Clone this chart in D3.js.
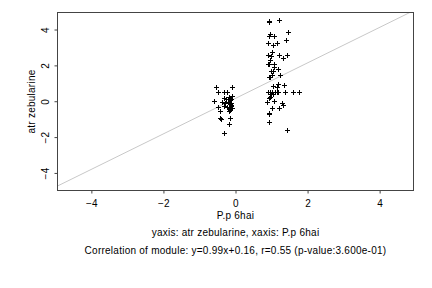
<!DOCTYPE html>
<html>
<head>
<meta charset="utf-8">
<script src="https://cdn.jsdelivr.net/npm/d3@7"></script>
<style>
  body { margin: 0; background: #fff; }
  svg text { font-family: "Liberation Sans", Arial, sans-serif; fill: #000; font-size: 10px; letter-spacing: 0.25px; }
</style>
</head>
<body>
<div id="chart"></div>
<script>
// valeurs (P.p 6hai vs atr zebularine)
const ptX = [
  0.92, 0.94, 1.20, 1.47, 0.96, 0.92, 1.08, 1.39, 0.89, 1.04, 1.15, 1.02,
  0.89, 0.98, 1.22, 1.32, 1.43, 0.96, 0.89, 0.94, 1.06, 1.08, 1.19, 0.98,
  1.04, 1.24, 1.01, 0.96, 0.92, 1.17, 1.04, 1.35, 1.15,
  0.89, 0.96, 1.01, 1.10, 1.15, 1.19, 1.38, 1.59, 1.75,
  0.98, 1.04, 0.96, 0.92, 0.87, 1.08, 1.29, 1.32, 1.01, 1.22, 0.92, 0.94,
  0.94, 1.43,
  -0.54, -0.10, -0.49, -0.31, -0.24, -0.59, -0.33, -0.26, -0.19, -0.15,
  -0.13, -0.38, -0.29, -0.22, -0.17, -0.13, -0.33, -0.24, -0.17, -0.13,
  -0.19, -0.10, -0.49, -0.44, -0.43, -0.19, -0.15, -0.44, -0.40, -0.14,
  -0.19, -0.33, -0.15, -0.12, -0.18, -0.11, -0.16, -0.20
];
const ptY = [
  4.47, 4.43, 4.54, 3.87, 3.76, 3.65, 3.65, 3.42, 3.27, 3.15, 3.27, 2.72,
  2.59, 2.55, 2.59, 2.40, 2.59, 2.31, 2.08, 2.05, 2.08, 1.93, 1.79, 1.71,
  1.71, 1.47, 1.47, 1.37, 1.34, 0.97, 0.85, 0.91, 0.78,
  0.54, 0.54, 0.54, 0.54, 0.54, 0.54, 0.54, 0.54, 0.54,
  0.41, 0.43, 0.22, 0.17, -0.02, 0.03, -0.11, -0.19, -0.39, -0.36, -0.67, -0.73,
  -1.16, -1.60,
  0.78, 0.78, 0.52, 0.52, 0.52, 0.02, 0.17, 0.11, 0.26, 0.20,
  0.11, -0.02, -0.11, -0.02, -0.02, -0.11, -0.26, -0.30, -0.34, -0.26,
  -0.45, -0.39, -0.34, -0.53, -0.54, -0.53, -0.49, -0.92, -0.99, -0.92,
  -1.27, -1.77, 0.05, -0.20, -0.40, 0.30, -0.15, -0.05
];
const xTicks = [-4, -2, 0, 2, 4];
const yTicks = [-4, -2, 0, 2, 4];
const fit = {slope: 0.99, intercept: 0.16};
const xLabel = "P.p 6hai";
const yLabel = "atr zebularine";
const subtitle1 = "yaxis: atr zebularine, xaxis: P.p 6hai";
const subtitle2 = "Correlation of module: y=0.99x+0.16, r=0.55 (p-value:3.600e-01)";

const W = 432, H = 288;
const box = {left: 57.5, right: 413.5, top: 12.5, bottom: 190.5};

const svg = d3.select("#chart").append("svg")
    .attr("width", W).attr("height", H);

const x = d3.scaleLinear().domain([-4.94, 4.94]).range([box.left, box.right]);
const y = d3.scaleLinear().domain([-4.98, 4.95]).range([box.bottom, box.top]);

svg.append("clipPath").attr("id", "clip")
  .append("rect")
    .attr("x", box.left).attr("y", box.top)
    .attr("width", box.right - box.left).attr("height", box.bottom - box.top);

// droite de régression
const x0 = -4.94, x1 = 4.94;
svg.append("line")
    .attr("clip-path", "url(#clip)")
    .attr("x1", x(x0)).attr("y1", y(fit.slope * x0 + fit.intercept))
    .attr("x2", x(x1)).attr("y2", y(fit.slope * x1 + fit.intercept))
    .attr("stroke", "#c8c8c8").attr("stroke-width", 1);

// points en croix
const pts = ptX.map((v, i) => ({x: v, y: ptY[i]}));
svg.append("g").selectAll("path")
  .data(pts)
  .join("path")
    .attr("d", d => {
      const cx = Math.round(x(d.x)) + 0.5, cy = Math.round(y(d.y)) + 0.5;
      return `M${cx - 2.5},${cy}H${cx + 2.5}M${cx},${cy - 2.5}V${cy + 2.5}`;
    })
    .attr("stroke", "#000").attr("stroke-width", 1).attr("fill", "none");

// cadre
svg.append("rect")
    .attr("x", box.left).attr("y", box.top)
    .attr("width", box.right - box.left).attr("height", box.bottom - box.top)
    .attr("fill", "none").attr("stroke", "#444").attr("stroke-width", 1);

// axes
const xAxis = svg.append("g")
    .attr("transform", `translate(0,${box.bottom})`)
    .call(d3.axisBottom(x).tickValues(xTicks).tickSize(3).tickPadding(6).tickSizeOuter(0));
xAxis.select(".domain").remove();
xAxis.selectAll("line").attr("stroke", "#444");

const yAxis = svg.append("g")
    .attr("transform", `translate(${box.left},0)`)
    .call(d3.axisLeft(y).tickValues(yTicks).tickSize(3).tickSizeOuter(0));
yAxis.select(".domain").remove();
yAxis.selectAll("line").attr("stroke", "#444");
yAxis.selectAll("text")
    .attr("x", null).attr("dy", null)
    .attr("text-anchor", "middle")
    .attr("transform", "translate(-9,0) rotate(-90)");
svg.selectAll(".tick text").attr("font-size", null).attr("font-family", null);

// titres
svg.append("text")
    .attr("x", (box.left + box.right) / 2).attr("y", 219)
    .attr("text-anchor", "middle")
    .text(xLabel);
svg.append("text")
    .attr("transform", `translate(35,${(box.top + box.bottom) / 2}) rotate(-90)`)
    .attr("text-anchor", "middle")
    .text(yLabel);
svg.append("text")
    .attr("x", (box.left + box.right) / 2).attr("y", 236)
    .attr("text-anchor", "middle")
    .text(subtitle1);
svg.append("text")
    .attr("x", (box.left + box.right) / 2).attr("y", 254)
    .attr("text-anchor", "middle")
    .text(subtitle2);
</script>
</body>
</html>
